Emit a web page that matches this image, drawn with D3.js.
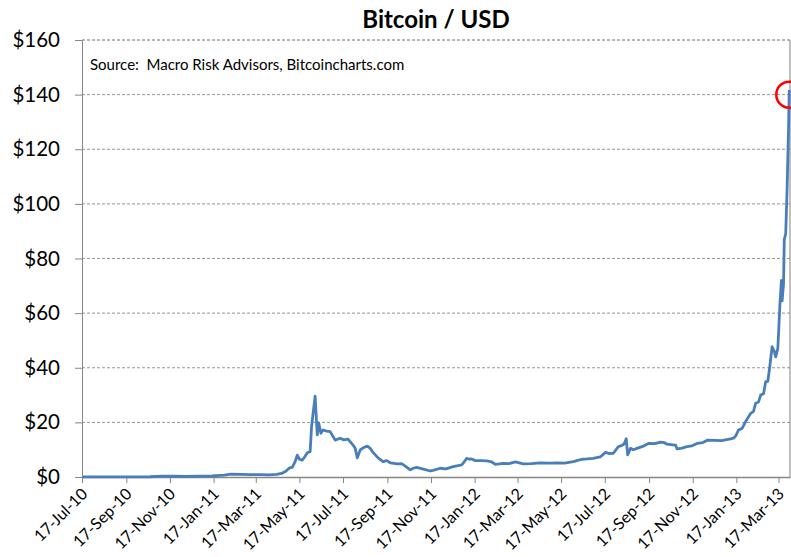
<!DOCTYPE html>
<html lang="en">

<head>
    <meta charset="UTF-8">
    <title>Bitcoin / USD</title>
    <script src="https://cdn.jsdelivr.net/npm/d3@7"></script>
    <style>
        body { margin: 0; background: #fff; }
        svg { display: block; font-family: Lato, "Open Sans", sans-serif; }
    </style>
</head>

<body>
    <svg width="791" height="557"></svg>
    <script>
        // price series
        var dates = [
            "2010-07-17", "2010-08-01", "2010-08-20", "2010-09-10", "2010-10-01", "2010-10-20", "2010-11-06", "2010-11-20",
            "2010-12-10", "2010-12-30", "2011-01-15", "2011-02-01", "2011-02-10", "2011-02-25", "2011-03-10", "2011-03-25",
            "2011-04-05", "2011-04-15", "2011-04-22", "2011-04-28", "2011-05-03", "2011-05-07", "2011-05-11", "2011-05-14",
            "2011-05-17", "2011-05-21", "2011-05-25", "2011-05-28", "2011-06-01", "2011-06-03", "2011-06-05", "2011-06-08",
            "2011-06-09", "2011-06-11", "2011-06-13", "2011-06-16", "2011-06-19", "2011-06-24", "2011-06-29", "2011-07-06",
            "2011-07-13", "2011-07-18", "2011-07-24", "2011-07-31", "2011-08-03", "2011-08-06", "2011-08-10", "2011-08-15",
            "2011-08-20", "2011-08-24", "2011-08-27", "2011-09-04", "2011-09-11", "2011-09-16", "2011-09-21", "2011-10-01",
            "2011-10-07", "2011-10-12", "2011-10-19", "2011-10-23", "2011-10-28", "2011-11-05", "2011-11-16", "2011-11-20",
            "2011-11-30", "2011-12-08", "2011-12-18", "2011-12-30", "2012-01-06", "2012-01-10", "2012-01-13", "2012-01-18",
            "2012-01-25", "2012-02-03", "2012-02-10", "2012-02-15", "2012-02-26", "2012-03-05", "2012-03-14", "2012-03-25",
            "2012-04-05", "2012-04-18", "2012-05-01", "2012-05-11", "2012-05-22", "2012-06-03", "2012-06-15", "2012-06-22",
            "2012-07-01", "2012-07-07", "2012-07-11", "2012-07-18", "2012-07-23", "2012-07-29", "2012-08-05", "2012-08-10",
            "2012-08-13", "2012-08-16", "2012-08-18", "2012-08-22", "2012-08-26", "2012-08-31", "2012-09-08", "2012-09-16",
            "2012-09-25", "2012-10-03", "2012-10-08", "2012-10-12", "2012-10-20", "2012-10-24", "2012-10-26", "2012-11-02",
            "2012-11-09", "2012-11-16", "2012-11-23", "2012-12-01", "2012-12-08", "2012-12-18", "2012-12-27", "2013-01-09",
            "2013-01-13", "2013-01-16", "2013-01-20", "2013-01-25", "2013-01-30", "2013-02-06", "2013-02-10", "2013-02-13",
            "2013-02-17", "2013-02-20", "2013-02-24", "2013-02-27", "2013-03-02", "2013-03-05", "2013-03-08", "2013-03-11",
            "2013-03-13", "2013-03-16", "2013-03-19", "2013-03-21", "2013-03-22", "2013-03-24", "2013-03-25", "2013-03-27",
            "2013-03-29", "2013-03-31", "2013-04-01"
        ];
        var prices = [
            0.05, 0.07, 0.07, 0.06, 0.06, 0.10, 0.30, 0.28,
            0.22, 0.30, 0.40, 0.70, 1.05, 0.95, 0.88, 0.85,
            0.75, 0.95, 1.3, 2.1, 3.3, 3.5, 5.6, 8.0,
            6.5, 6.2, 7.6, 8.9, 9.3, 18.4, 23, 29.6,
            24.5, 15.4, 19.8, 16, 17.2, 16.8, 16.6, 13.5,
            14.2, 13.6, 13.9, 11.7, 10.5, 7.0, 9.9, 10.8,
            11.3, 10.5, 9.3, 7.0, 5.6, 6.0, 5.2, 4.8,
            4.9, 4.0, 2.6, 3.2, 3.5, 3.0, 2.2, 2.4,
            3.2, 3.0, 3.8, 4.4, 6.8, 6.5, 6.6, 6.0,
            6.0, 5.9, 5.5, 4.6, 5.0, 4.9, 5.5, 4.8,
            4.9, 5.2, 5.1, 5.2, 5.1, 5.6, 6.5, 6.6,
            6.8, 7.2, 7.4, 9.0, 8.6, 8.7, 11.1, 11.6,
            12.1, 14.0, 8.1, 10.5, 10.0, 10.5, 11.2, 12.3,
            12.2, 12.8, 12.6, 12.0, 11.8, 11.7, 10.3, 10.6,
            11.1, 11.4, 12.3, 12.6, 13.5, 13.4, 13.3, 14.0,
            14.2, 15.0, 17.2, 17.8, 20.3, 23.3, 24.0, 27.0,
            27.5, 30.0, 30.5, 34.9, 35, 41, 47.7, 46,
            44, 47.1, 63.6, 72, 64.5, 71, 87, 89,
            106, 128, 141.7
        ];

        var xTickDates = [
            "2010-07-17", "2010-09-17", "2010-11-17", "2011-01-17", "2011-03-17", "2011-05-17",
            "2011-07-17", "2011-09-17", "2011-11-17", "2012-01-17", "2012-03-17", "2012-05-17",
            "2012-07-17", "2012-09-17", "2012-11-17", "2013-01-17", "2013-03-17"
        ];
        var yTicks = [0, 20, 40, 60, 80, 100, 120, 140, 160];

        var parse = d3.timeParse("%Y-%m-%d");
        var data = dates.map(function (d, i) { return { date: parse(d), value: prices[i] }; });

        var plotLeft = 82, plotRight = 790, plotTop = 40, plotBottom = 477;

        var x = d3.scaleTime()
            .domain([parse("2010-07-17"), parse("2013-04-02")])
            .range([plotLeft, plotRight]);

        var y = d3.scaleLinear()
            .domain([0, 160])
            .range([plotBottom, plotTop]);

        var svg = d3.select("svg");

        // gridlines
        svg.append("g")
            .selectAll("line")
            .data(yTicks.slice(1))
            .join("line")
            .attr("x1", plotLeft).attr("x2", plotRight)
            .attr("y1", function (d) { return y(d); })
            .attr("y2", function (d) { return y(d); })
            .attr("stroke", function (d) { return d === 160 ? "#6e6e6e" : "#959595"; })
            .attr("stroke-width", 1)
            .attr("stroke-dasharray", "3,2");

        // right border
        svg.append("line")
            .attr("x1", plotRight).attr("x2", plotRight)
            .attr("y1", plotTop).attr("y2", plotBottom)
            .attr("stroke", "#808080");

        // y axis
        var yAxis = svg.append("g")
            .attr("transform", "translate(" + plotLeft + ",0)")
            .call(d3.axisLeft(y).tickValues(yTicks).tickSize(7).tickPadding(15)
                .tickFormat(function (d) { return "$" + d; }));
        yAxis.select(".domain").attr("stroke", "#868686");
        yAxis.selectAll(".tick line").attr("stroke", "#868686");
        yAxis.selectAll("text")
            .attr("font-size", "20.5px")
            .attr("fill", "#000")
            .style("font-family", "Lato, 'Open Sans', sans-serif");

        // x axis
        var xAxis = svg.append("g")
            .attr("transform", "translate(0," + plotBottom + ")")
            .call(d3.axisBottom(x).tickValues(xTickDates.map(parse)).tickSize(6).tickSizeOuter(0)
                .tickFormat(d3.timeFormat("%d-%b-%y")));
        xAxis.select(".domain").attr("stroke", "#868686").attr("stroke-width", 1.5);
        xAxis.selectAll(".tick line").attr("stroke", "#868686");
        xAxis.selectAll("text")
            .attr("font-size", "16px")
            .attr("fill", "#000")
            .style("font-family", "Lato, 'Open Sans', sans-serif")
            .attr("text-anchor", "end")
            .attr("x", 0)
            .attr("y", 0)
            .attr("dy", "0.35em")
            .attr("transform", "translate(2,14) rotate(-45)");

        // price line
        var line = d3.line()
            .x(function (d) { return x(d.date); })
            .y(function (d) { return y(d.value); });

        svg.append("path")
            .datum(data)
            .attr("d", line)
            .attr("fill", "none")
            .attr("stroke", "#4a7ebb")
            .attr("stroke-width", 2.8)
            .attr("stroke-linejoin", "round");

        // red circle on latest price
        var last = data[data.length - 1];
        svg.append("circle")
            .attr("cx", x(last.date))
            .attr("cy", y(140))
            .attr("r", 13)
            .attr("fill", "none")
            .attr("stroke", "#ff0000")
            .attr("stroke-width", 2.5);

        // title and source note
        svg.append("text")
            .attr("x", (plotLeft + plotRight) / 2)
            .attr("y", 28)
            .attr("text-anchor", "middle")
            .attr("font-size", "24px")
            .attr("font-weight", "bold")
            .text("Bitcoin / USD");

        svg.append("text")
            .attr("x", 90)
            .attr("y", 70)
            .attr("font-size", "15px")
            .attr("xml:space", "preserve")
            .text("Source:  Macro Risk Advisors, Bitcoincharts.com");
    </script>
</body>

</html>
